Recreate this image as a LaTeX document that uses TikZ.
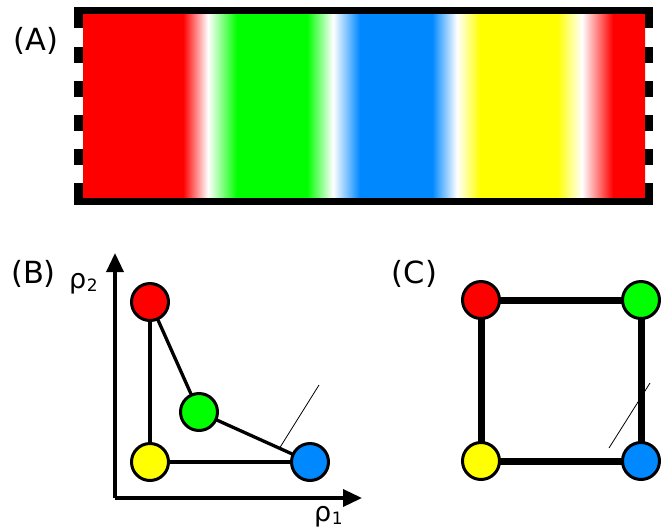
\documentclass[tikz,border=0pt]{standalone}
\usepackage{fontspec}
\setmainfont{DejaVu Sans}
\usetikzlibrary{arrows.meta,backgrounds}
\definecolor{cR}{RGB}{255,0,0}
\definecolor{cG}{RGB}{0,255,0}
\definecolor{cB}{RGB}{0,136,255}
\definecolor{cY}{RGB}{255,255,0}
\pgfdeclarehorizontalshading{bands}{100bp}{color(0bp)=(cR); color(25bp)=(cR); color(33.9bp)=(cR); color(36.12bp)=(white); color(38.7bp)=(cG); color(44.93bp)=(cG); color(47.24bp)=(white); color(49.64bp)=(cB); color(56.05bp)=(cB); color(58.27bp)=(white); color(60.32bp)=(cY); color(67.17bp)=(cY); color(69.39bp)=(white); color(72.15bp)=(cR); color(75bp)=(cR); color(100bp)=(cR)}
\tikzset{
  dot/.style={circle, draw=black, line width=3pt, minimum size=37pt, inner sep=0pt},
  thinedge/.style={line width=3.3pt},
  thickedge/.style={line width=7pt},
  pointer/.style={line width=0.8pt},
  axis/.style={line width=3.5pt, -{Triangle[length=19pt,width=17pt]}},
  lab/.style={font=\fontsize{30.5}{36}\selectfont, inner sep=0pt},
  rho/.style={font=\fontsize{27}{32}\selectfont, inner sep=0pt, anchor=base west}
}
\newcommand{\subnum}[1]{\hspace{0.5pt}\raisebox{-3pt}{\fontsize{17}{19}\selectfont #1}}
\begin{document}
\begin{tikzpicture}[x=1pt,y=-1pt]
\useasboundingbox (0,0) rectangle (670,531);
% Panel A
\shade[shading=bands] (83,14) rectangle (645,198);
\fill[black] (74,7) rectangle (653,14);
\fill[black] (74,198) rectangle (653,205);
\foreach \a/\b in {7/28, 47/63, 81/97, 115/131, 149/165, 183/205}{
  \fill[black] (74,\a) rectangle (83,\b);
  \fill[black] (645,\a) rectangle (653,\b);
}
\node[lab] (labA) at (36,41) {(A)};
% Panel B
\node[lab] (labB) at (33.5,273.5) {(B)};
\coordinate (O) at (115,498);
\coordinate (Ytip) at (115,253);
\coordinate (Xtip) at (362,498);
\draw[axis] (O) -- (Ytip);
\draw[axis] (O) -- (Xtip);
\node[rho] (r2) at (69,288) {ρ\subnum{2}};
\node[rho] (r1) at (314,521) {ρ\subnum{1}};
\node[dot, fill=cR] (bR) at (150,302) {};
\node[dot, fill=cG] (bG) at (199,412) {};
\node[dot, fill=cY] (bY) at (150,462) {};
\node[dot, fill=cB] (bB) at (310,462) {};
\begin{scope}[on background layer]
\draw[thinedge] (bR.center) -- (bY.center);
\draw[thinedge] (bR.center) -- (bG.center);
\draw[thinedge] (bG.center) -- (bB.center);
\draw[thinedge] (bY.center) -- (bB.center);
\end{scope}
\coordinate (pB1) at (319,385);
\coordinate (pB2) at (279,449);
\draw[pointer] (pB1) -- (pB2);
% Panel C
\node[lab] (labC) at (414.5,274) {(C)};
\node[dot, fill=cR] (cRn) at (481,300) {};
\node[dot, fill=cG] (cGn) at (641,300) {};
\node[dot, fill=cY] (cYn) at (481,461) {};
\node[dot, fill=cB] (cBn) at (641,461) {};
\begin{scope}[on background layer]
\draw[thickedge] (cRn.center) -- (cGn.center);
\draw[thickedge] (cGn.center) -- (cBn.center);
\draw[thickedge] (cBn.center) -- (cYn.center);
\draw[thickedge] (cYn.center) -- (cRn.center);
\end{scope}
\coordinate (pC1) at (650,383);
\coordinate (pC2) at (609,448);
\draw[pointer] (pC1) -- (pC2);
\end{tikzpicture}
\end{document}
